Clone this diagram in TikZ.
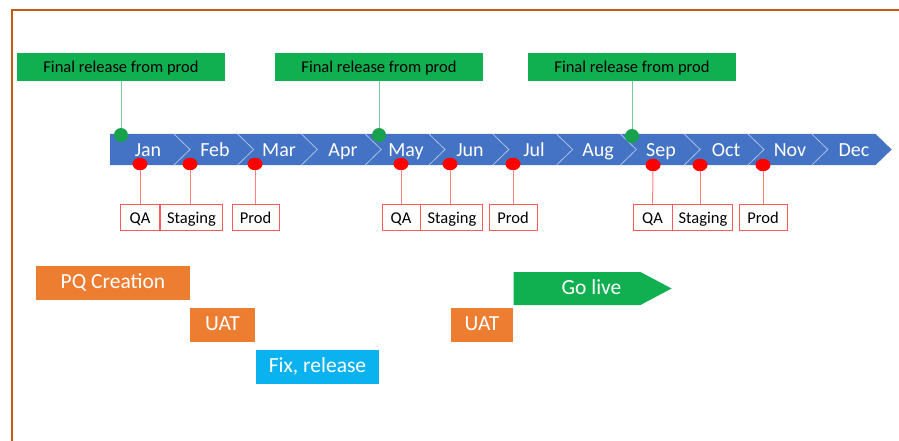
\documentclass[tikz,border=0pt]{standalone}
\usepackage{fontspec}
\setmainfont{Carlito}
\usetikzlibrary{positioning,shapes.geometric,shapes.symbols}
\definecolor{framec}{HTML}{C55A11}
\definecolor{bandblue}{HTML}{4472C4}
\definecolor{relgreen}{HTML}{10B050}
\definecolor{dotgreen}{HTML}{18A24E}
\definecolor{pqorange}{HTML}{ED7D31}
\definecolor{fixblue}{HTML}{0BB2F0}
\def\notch(#1){\draw[white!55!bandblue, line width=0.8pt] (#1,134) -- (#1+16,149.5) -- (#1,165);}
\tikzset{
  relbox/.style={fill=relgreen, minimum width=208pt, minimum height=28.5pt, inner sep=0pt,
    font=\fontsize{16.5pt}{18pt}\selectfont, text height=12pt, text depth=0pt},
  gdot/.style={circle, fill=dotgreen, minimum size=14pt, inner sep=0pt},
  gline/.style={relgreen!60!white, line width=1pt},
  rdot/.style={ellipse, fill=red, minimum width=15pt, minimum height=12.5pt, inner sep=0pt},
  rline/.style={red!50!white, line width=1pt},
  rbox/.style={draw=red!65!white, line width=0.9pt, minimum height=26pt, inner sep=0pt,
    font=\fontsize{16.5pt}{18pt}\selectfont, text height=12pt, text depth=0pt},
  month/.style={text=white, anchor=base, inner sep=0pt, font=\fontsize{20pt}{22pt}\selectfont},
  bar/.style={text=white, minimum height=34pt, inner sep=0pt,
    font=\fontsize{21.5pt}{23pt}\selectfont, text height=13.8pt, text depth=2.2pt}
}
\begin{document}
\begin{tikzpicture}[x=1pt, y=-1pt]
		%%%%% START %%%%%
		\useasboundingbox (0,0) rectangle (899,441);
		\draw[framec, line width=2pt] (11.5,445) -- (11.5,10) -- (905,10);
		
		% month band
		\fill[bandblue] (110,134) -- (875.6,134) -- (891.6,149.5) -- (875.6,165) -- (110,165) -- cycle;
		\notch(174) \notch(237.6) \notch(301.4) \notch(365.2) \notch(429) \notch(492.8)
		\notch(556.6) \notch(620.4) \notch(684.2) \notch(748) \notch(811.8)
		
		\node[month] (jan) at (148,157) {Jan};
		\node[month] (feb) at (215,157) {Feb};
		\node[month] (mar) at (279,157) {Mar};
		\node[month] (apr) at (343,157) {Apr};
		\node[month] (may) at (406,157) {May};
		\node[month] (jun) at (470,157) {Jun};
		\node[month] (jul) at (534,157) {Jul};
		\node[month] (aug) at (598,157) {Aug};
		\node[month] (sep) at (661,157) {Sep};
		\node[month] (oct) at (726,157) {Oct};
		\node[month] (nov) at (790,157) {Nov};
		\node[month] (dec) at (854,157) {Dec};
		
		% final releases
		\node[relbox] (fr1) at (121,67) {Final release from prod};
		\node[relbox] (fr2) at (379,67) {Final release from prod};
		\node[relbox] (fr3) at (632,67) {Final release from prod};
		\node[gdot] (gd1) at (121,135) {};
		\node[gdot] (gd2) at (379,135) {};
		\node[gdot] (gd3) at (632,136) {};
		\draw[gline] (fr1) -- (gd1);
		\draw[gline] (fr2) -- (gd2);
		\draw[gline] (fr3) -- (gd3);
		
		% QA / Staging / Prod
		\node[rdot] (dq1) at (140,164) {};
		\node[rdot] (ds1) at (190,164) {};
		\node[rdot] (dp1) at (255,164) {};
		\node[rbox, minimum width=39pt] (qa1) at (140,217) {QA};
		\node[rbox, minimum width=62pt, right=0pt of qa1] (stg1) {Staging};
		\node[rbox, minimum width=47pt] (pr1) at (255.5,217) {Prod};
		\draw[rline] (dq1) -- (qa1);
		\draw[rline] (ds1) -- (ds1 |- stg1.north);
		\draw[rline] (dp1) -- (dp1 |- pr1.north);
		
		\node[rdot] (dq2) at (401,164) {};
		\node[rdot] (ds2) at (450,164) {};
		\node[rdot] (dp2) at (513,164) {};
		\node[rbox, minimum width=38pt] (qa2) at (401,217) {QA};
		\node[rbox, minimum width=62pt, right=0pt of qa2] (stg2) {Staging};
		\node[rbox, minimum width=48pt] (pr2) at (513,217) {Prod};
		\draw[rline] (dq2) -- (qa2);
		\draw[rline] (ds2) -- (ds2 |- stg2.north);
		\draw[rline] (dp2) -- (dp2 |- pr2.north);
		
		\node[rdot] (dq3) at (653,165) {};
		\node[rdot] (ds3) at (700,165) {};
		\node[rdot] (dp3) at (763,165) {};
		\node[rbox, minimum width=39pt] (qa3) at (652.5,217) {QA};
		\node[rbox, minimum width=60pt, right=0pt of qa3] (stg3) {Staging};
		\node[rbox, minimum width=48pt] (pr3) at (763,217) {Prod};
		\draw[rline] (dq3) -- (qa3);
		\draw[rline] (ds3) -- (ds3 |- stg3.north);
		\draw[rline] (dp3) -- (dp3 |- pr3.north);
		
		% phases
		\node[bar, fill=pqorange, minimum width=154pt] (pq) at (113,283) {PQ Creation};
		\node[bar, fill=pqorange, minimum width=65pt] (uat1) at (222.5,325) {UAT};
		\node[bar, fill=fixblue, minimum width=123pt] (fix) at (317.5,367) {Fix, release};
		\node[bar, fill=pqorange, minimum width=62pt] (uat2) at (482,325) {UAT};
		\node[bar, fill=relgreen, signal, signal to=east, signal pointer angle=56,
		  minimum width=158pt, minimum height=33pt] (golive) at (577,288.5) {\hspace*{29pt}Go live};
		%%%%% END %%%%%
\end{tikzpicture}
\end{document}
